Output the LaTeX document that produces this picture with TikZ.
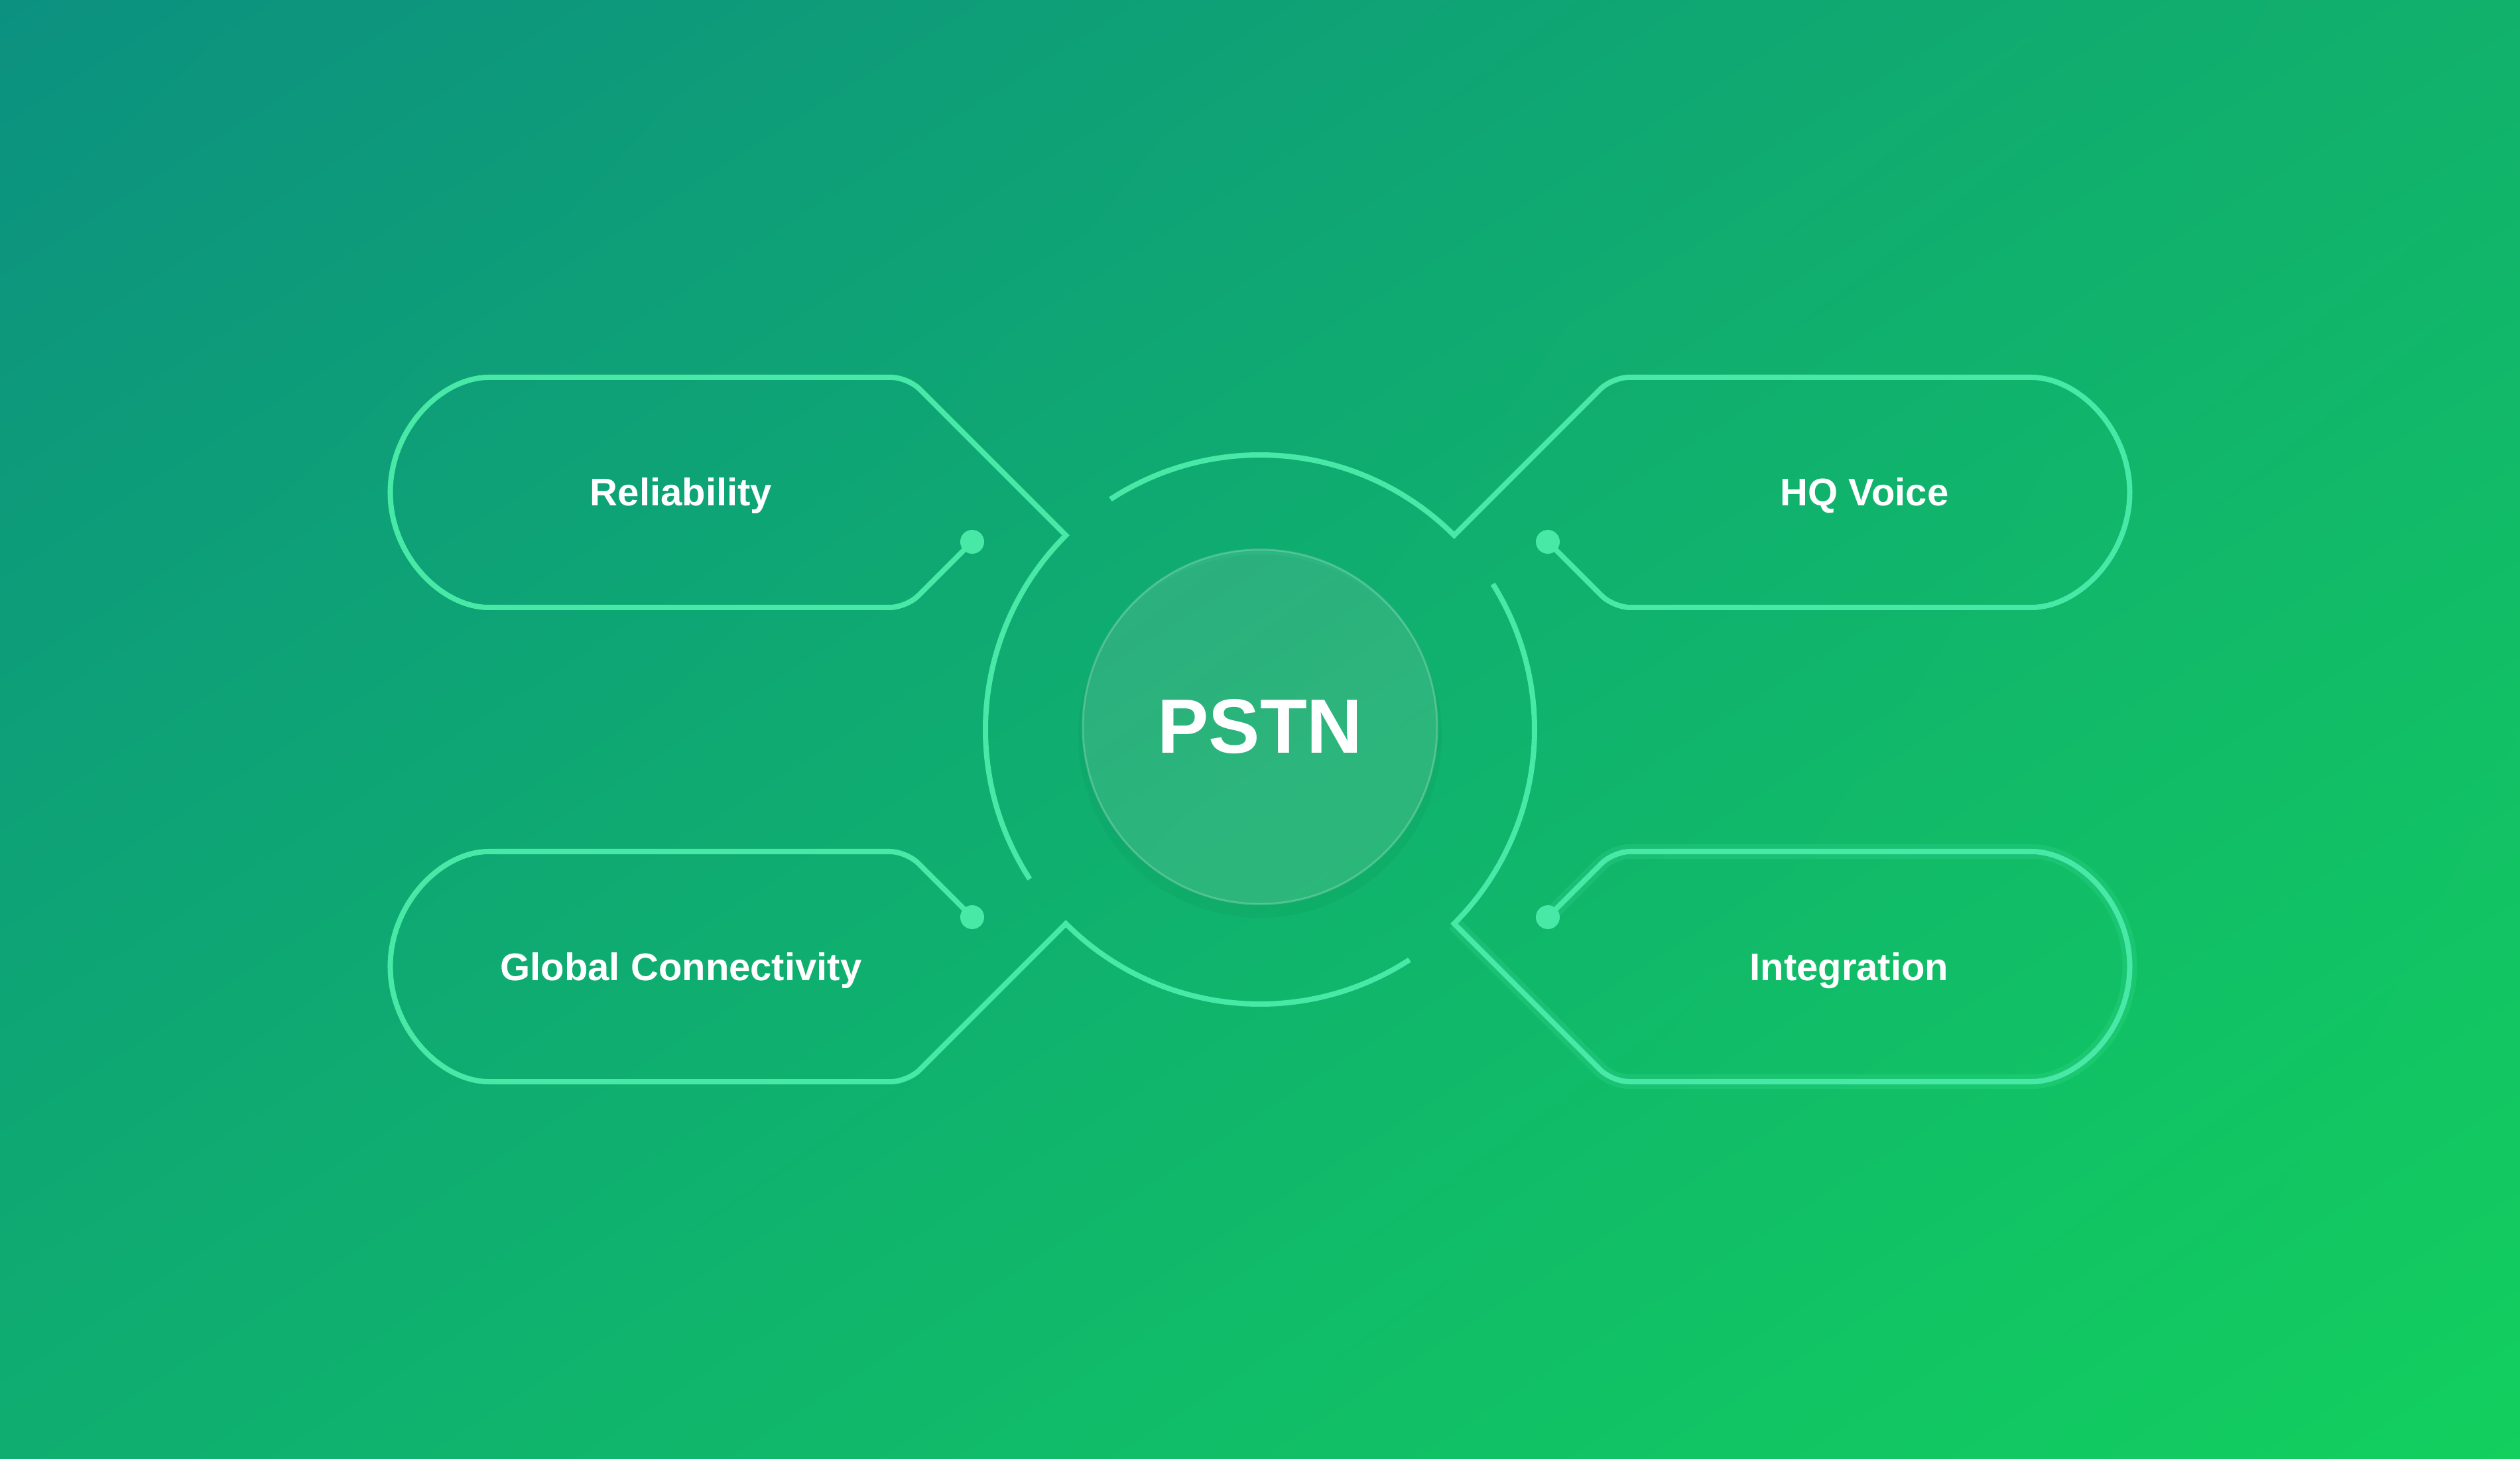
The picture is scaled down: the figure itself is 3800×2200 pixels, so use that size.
\documentclass[tikz,border=0pt]{standalone}
\usepackage{fontspec}
\setmainfont{Liberation Sans}
\usepackage{tikz}
\usetikzlibrary{positioning, calc, shadings}
\definecolor{pstnteal}{RGB}{12,145,128}
\definecolor{pstnjade}{RGB}{17,177,108}
\definecolor{pstnsea}{RGB}{15,174,112}
\definecolor{pstnlime}{RGB}{18,207,94}
\definecolor{pstnmint}{RGB}{72,232,166}
\tikzset{
  %% ---- lines ----
  wire/.style  = {draw=pstnmint, line width=0.8mm, line join=miter},
  glow/.style  = {draw=pstnmint, draw opacity=0.18, line width=2.2mm},
  %% ---- nodes ----
  knob/.style  = {circle, fill=pstnmint, inner sep=0pt, minimum size=3.6mm},
  tag/.style   = {text=white, inner sep=0pt,
                  font=\bfseries\fontsize{16.5}{20}\selectfont},
  hub/.style   = {circle, fill=white, fill opacity=0.12,
                  draw=white, draw opacity=0.22, line width=0.3mm,
                  minimum size=5.34cm, text opacity=1, text=white,
                  font=\bfseries\fontsize{33}{40}\selectfont},
}

\begin{document}
\begin{tikzpicture}[x=0.01cm, y=0.01cm]
\shade[upper left=pstnteal, upper right=pstnjade, lower left=pstnsea, lower right=pstnlime]
  (-1900,-1100) rectangle (1900,1100);
\useasboundingbox (-1900,-1100) rectangle (1900,1100);
\coordinate (tl) at (135:414); \coordinate (tr) at (45:414);
\coordinate (bl) at (225:414); \coordinate (br) at (315:414);
\node[knob] (ktl) at (-434,283)  {};
\node[knob] (ktr) at (434,283)   {};
\node[knob] (kbl) at (-434,-283) {};
\node[knob] (kbr) at (434,-283)  {};
\draw[glow] (br) [rounded corners=2.5mm] -- (531,-531) -- (1138,-531)
  arc[start angle=-90, end angle=90, radius=173.5] -- (533,-184) -- (kbr.center);
\draw[wire] (213:414) arc[start angle=213, end angle=135, radius=414]
  [rounded corners=2.5mm] -- (-531,531) -- (-1138,531)
  arc[start angle=90, end angle=270, radius=173.5] -- (-533,184) -- (ktl.center);
\draw[wire] (123:414) arc[start angle=123, end angle=45, radius=414]
  [rounded corners=2.5mm] -- (531,531) -- (1138,531)
  arc[start angle=90, end angle=-90, radius=173.5] -- (533,184) -- (ktr.center);
\draw[wire] (303:414) arc[start angle=303, end angle=225, radius=414]
  [rounded corners=2.5mm] -- (-531,-531) -- (-1138,-531)
  arc[start angle=270, end angle=90, radius=173.5] -- (-533,-184) -- (kbl.center);
\draw[wire] (32:414) arc[start angle=32, end angle=-45, radius=414]
  [rounded corners=2.5mm] -- (531,-531) -- (1138,-531)
  arc[start angle=-90, end angle=90, radius=173.5] -- (533,-184) -- (kbr.center);
\fill[black, opacity=0.03] (0,-10) circle[radius=274];
\node[hub] (pstn) at (0,4) {PSTN};
\node[tag, anchor=base]      (rel) at (-873,337)  {Reliability};
\node[tag, anchor=base east] (hqv) at (1039,337)  {HQ Voice};
\node[tag, anchor=base]      (glo) at (-873,-378) {Global Connectivity};
\node[tag, anchor=base east] (int) at (1039,-378) {Integration};
\end{tikzpicture}
\end{document}
